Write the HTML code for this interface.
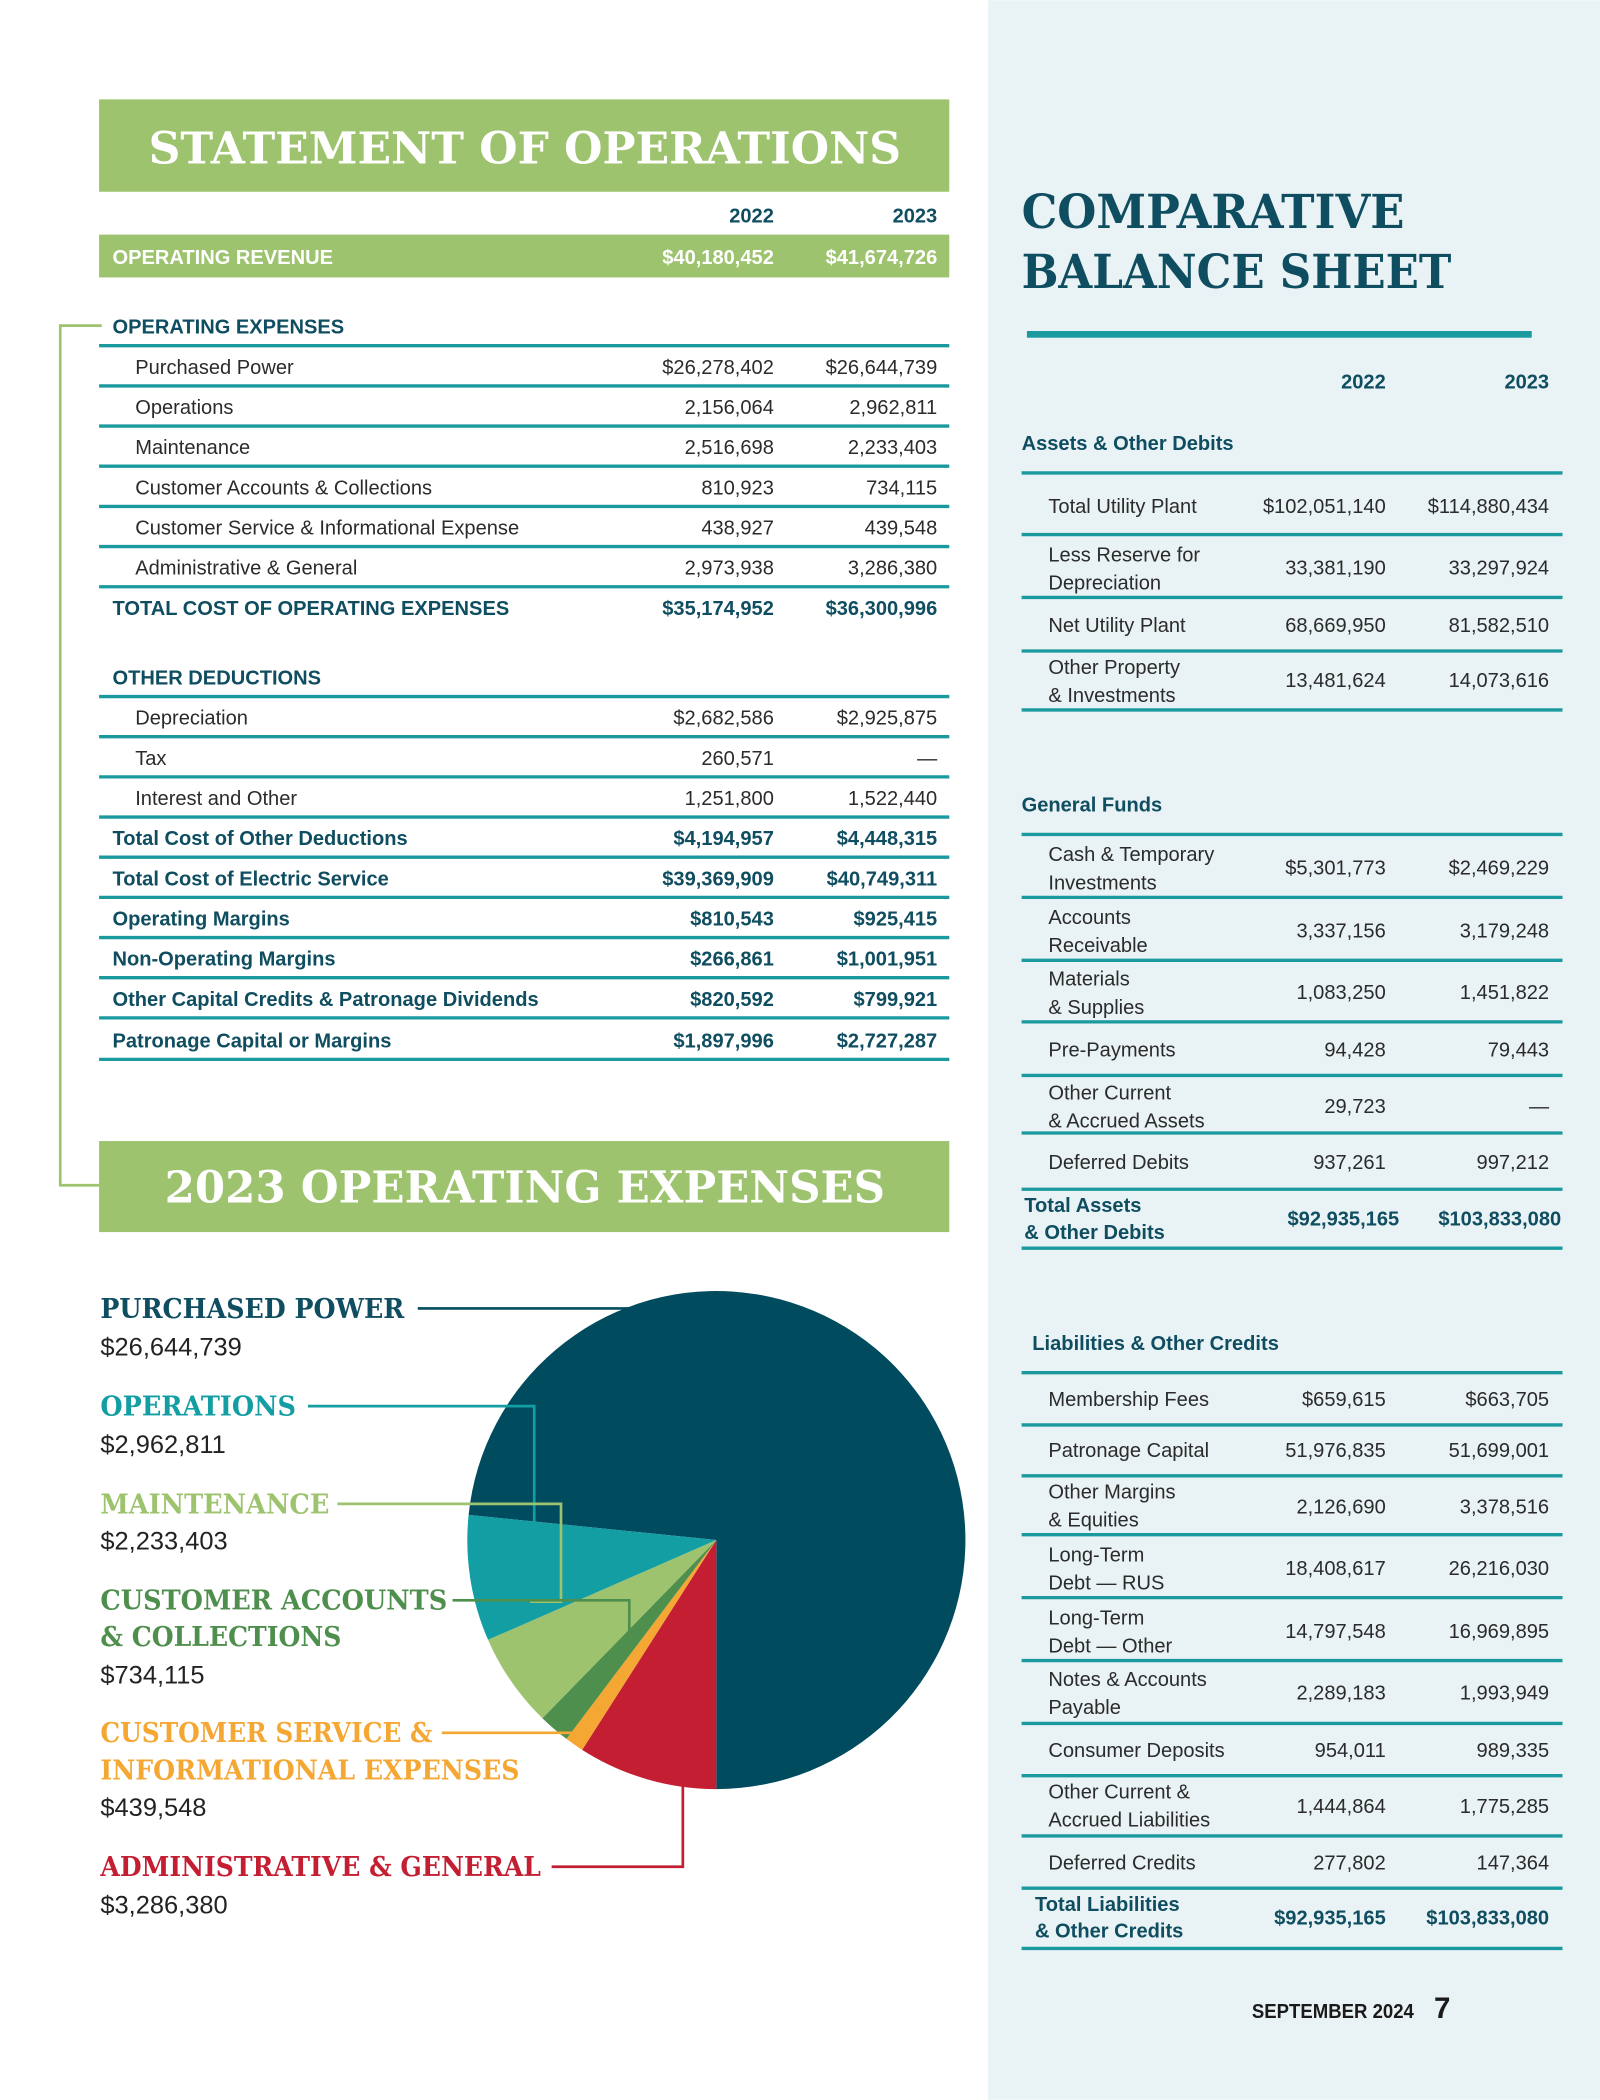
<!DOCTYPE html>
<html><head><meta charset="utf-8"><style>
html,body{margin:0;padding:0;background:#fff;}
svg{display:block;}
.t{font-family:"Liberation Sans",sans-serif;font-size:15px;fill:#2b2b2b;}
.b{font-family:"Liberation Sans",sans-serif;font-size:15px;font-weight:bold;fill:#0f4d60;}
.w{font-family:"Liberation Sans",sans-serif;font-size:15px;font-weight:bold;fill:#fff;}
.s{font-family:"DejaVu Serif","Liberation Serif",serif;font-weight:bold;}
.r{text-anchor:end;}
</style></head><body>
<svg width="1600" height="2100" viewBox="0 0 1195 1568" xmlns="http://www.w3.org/2000/svg">
<rect x="0" y="0" width="1195" height="1568" fill="#fff"/>
<rect x="738" y="0" width="457" height="1568" fill="#e9f2f4"/>

<rect x="74" y="74" width="635" height="69" fill="#9dc36e"/>
<text x="111" y="122" class="s" font-size="33" fill="#fff" textLength="562" lengthAdjust="spacingAndGlyphs">STATEMENT OF OPERATIONS</text>
<text x="578" y="166" class="b r">2022</text><text x="700" y="166" class="b r">2023</text>
<rect x="74" y="175" width="635" height="32" fill="#9dc36e"/>
<text x="84" y="197" class="w">OPERATING REVENUE</text>
<text x="578" y="197" class="w r">$40,180,452</text><text x="700" y="197" class="w r">$41,674,726</text>

<path d="M76 243 H45 V885 H74" fill="none" stroke="#9dc36e" stroke-width="2"/>
<text x="84" y="249" class="b">OPERATING EXPENSES</text>
<g stroke="#1a9a9e" stroke-width="2.5">
<line x1="74" x2="709" y1="258" y2="258"/><line x1="74" x2="709" y1="288" y2="288"/>
<line x1="74" x2="709" y1="318" y2="318"/><line x1="74" x2="709" y1="348" y2="348"/>
<line x1="74" x2="709" y1="378" y2="378"/><line x1="74" x2="709" y1="408" y2="408"/>
<line x1="74" x2="709" y1="438" y2="438"/>
<line x1="74" x2="709" y1="520" y2="520"/><line x1="74" x2="709" y1="550" y2="550"/>
<line x1="74" x2="709" y1="580" y2="580"/><line x1="74" x2="709" y1="610" y2="610"/>
<line x1="74" x2="709" y1="640" y2="640"/><line x1="74" x2="709" y1="670" y2="670"/>
<line x1="74" x2="709" y1="700" y2="700"/><line x1="74" x2="709" y1="730" y2="730"/>
<line x1="74" x2="709" y1="760" y2="760"/><line x1="74" x2="709" y1="791" y2="791"/>
</g>
<g>
<text x="101" y="279" class="t">Purchased Power</text><text x="578" y="279" class="t r">$26,278,402</text><text x="700" y="279" class="t r">$26,644,739</text>
<text x="101" y="309" class="t">Operations</text><text x="578" y="309" class="t r">2,156,064</text><text x="700" y="309" class="t r">2,962,811</text>
<text x="101" y="339" class="t">Maintenance</text><text x="578" y="339" class="t r">2,516,698</text><text x="700" y="339" class="t r">2,233,403</text>
<text x="101" y="369" class="t">Customer Accounts &amp; Collections</text><text x="578" y="369" class="t r">810,923</text><text x="700" y="369" class="t r">734,115</text>
<text x="101" y="399" class="t">Customer Service &amp; Informational Expense</text><text x="578" y="399" class="t r">438,927</text><text x="700" y="399" class="t r">439,548</text>
<text x="101" y="429" class="t">Administrative &amp; General</text><text x="578" y="429" class="t r">2,973,938</text><text x="700" y="429" class="t r">3,286,380</text>
<text x="84" y="459" class="b">TOTAL COST OF OPERATING EXPENSES</text><text x="578" y="459" class="b r">$35,174,952</text><text x="700" y="459" class="b r">$36,300,996</text>
<text x="84" y="511" class="b">OTHER DEDUCTIONS</text>
<text x="101" y="541" class="t">Depreciation</text><text x="578" y="541" class="t r">$2,682,586</text><text x="700" y="541" class="t r">$2,925,875</text>
<text x="101" y="571" class="t">Tax</text><text x="578" y="571" class="t r">260,571</text><text x="700" y="571" class="t r">—</text>
<text x="101" y="601" class="t">Interest and Other</text><text x="578" y="601" class="t r">1,251,800</text><text x="700" y="601" class="t r">1,522,440</text>
<text x="84" y="631" class="b">Total Cost of Other Deductions</text><text x="578" y="631" class="b r">$4,194,957</text><text x="700" y="631" class="b r">$4,448,315</text>
<text x="84" y="661" class="b">Total Cost of Electric Service</text><text x="578" y="661" class="b r">$39,369,909</text><text x="700" y="661" class="b r">$40,749,311</text>
<text x="84" y="691" class="b">Operating Margins</text><text x="578" y="691" class="b r">$810,543</text><text x="700" y="691" class="b r">$925,415</text>
<text x="84" y="721" class="b">Non-Operating Margins</text><text x="578" y="721" class="b r">$266,861</text><text x="700" y="721" class="b r">$1,001,951</text>
<text x="84" y="751" class="b">Other Capital Credits &amp; Patronage Dividends</text><text x="578" y="751" class="b r">$820,592</text><text x="700" y="751" class="b r">$799,921</text>
<text x="84" y="782" class="b">Patronage Capital or Margins</text><text x="578" y="782" class="b r">$1,897,996</text><text x="700" y="782" class="b r">$2,727,287</text>
</g>

<rect x="74" y="852" width="635" height="68" fill="#9dc36e"/>
<text x="123" y="898" class="s" font-size="33" fill="#fff" textLength="538" lengthAdjust="spacingAndGlyphs">2023 OPERATING EXPENSES</text>

<g>
<path d="M535 1150 L350 1131.2 A186 186 0 1 1 535 1336 Z" fill="#004b5e"/>
<path d="M535 1150 L535 1336 A186 186 0 0 1 434.8 1306.7 Z" fill="#c41e33"/>
<path d="M535 1150 L434.8 1306.7 A186 186 0 0 1 423.1 1298.5 Z" fill="#f5a733"/>
<path d="M535 1150 L423.1 1298.5 A186 186 0 0 1 405.1 1283.1 Z" fill="#4f8f4e"/>
<path d="M535 1150 L405.1 1283.1 A186 186 0 0 1 364.5 1224.5 Z" fill="#9dc36e"/>
<path d="M535 1150 L364.5 1224.5 A186 186 0 0 1 350 1131.2 Z" fill="#139ea4"/>
</g>
<g fill="none" stroke-width="2">
<path d="M312 977 H475" stroke="#004b5e"/>
<path d="M230 1050 H399 V1138" stroke="#139ea4"/>
<path d="M252 1123 H419 V1196 H396" stroke="#9dc36e"/>
<path d="M338 1195 H470 V1218" stroke="#4f8f4e"/>
<path d="M330 1294 H428" stroke="#f5a733"/>
<path d="M412 1394 H510 V1333" stroke="#c41e33"/>
</g>
<g class="s" font-size="20">
<text x="75" y="984" fill="#0f4d60" textLength="227" lengthAdjust="spacingAndGlyphs">PURCHASED POWER</text>
<text x="75" y="1057" fill="#139ea4" textLength="146" lengthAdjust="spacingAndGlyphs">OPERATIONS</text>
<text x="75" y="1130" fill="#9dc36e" textLength="171" lengthAdjust="spacingAndGlyphs">MAINTENANCE</text>
<text x="75" y="1202" fill="#4f8f4e" textLength="259" lengthAdjust="spacingAndGlyphs">CUSTOMER ACCOUNTS</text>
<text x="75" y="1229" fill="#4f8f4e" textLength="180" lengthAdjust="spacingAndGlyphs">&amp; COLLECTIONS</text>
<text x="75" y="1301" fill="#f5a733" textLength="248" lengthAdjust="spacingAndGlyphs">CUSTOMER SERVICE &amp;</text>
<text x="75" y="1329" fill="#f5a733" textLength="313" lengthAdjust="spacingAndGlyphs">INFORMATIONAL EXPENSES</text>
<text x="75" y="1401" fill="#c41e33" textLength="329" lengthAdjust="spacingAndGlyphs">ADMINISTRATIVE &amp; GENERAL</text>
</g>
<g font-family="Liberation Sans,sans-serif" font-size="19" fill="#222">
<text x="75" y="1012">$26,644,739</text>
<text x="75" y="1085">$2,962,811</text>
<text x="75" y="1157">$2,233,403</text>
<text x="75" y="1257">$734,115</text>
<text x="75" y="1356">$439,548</text>
<text x="75" y="1429">$3,286,380</text>
</g>

<text x="763" y="170" class="s" font-size="35" fill="#0f4d60" textLength="286" lengthAdjust="spacingAndGlyphs">COMPARATIVE</text>
<text x="763" y="215" class="s" font-size="35" fill="#0f4d60" textLength="321" lengthAdjust="spacingAndGlyphs">BALANCE SHEET</text>
<rect x="767" y="247" width="377" height="5" fill="#1a9a9e"/>
<text x="1035" y="290" class="b r">2022</text><text x="1157" y="290" class="b r">2023</text>
<text x="763" y="336" class="b">Assets &amp; Other Debits</text>
<g stroke="#1a9a9e" stroke-width="2.5">
<line x1="763" x2="1167" y1="353" y2="353"/><line x1="763" x2="1167" y1="399" y2="399"/>
<line x1="763" x2="1167" y1="446" y2="446"/><line x1="763" x2="1167" y1="486" y2="486"/>
<line x1="763" x2="1167" y1="530" y2="530"/>
<line x1="763" x2="1167" y1="623" y2="623"/><line x1="763" x2="1167" y1="670" y2="670"/>
<line x1="763" x2="1167" y1="717" y2="717"/><line x1="763" x2="1167" y1="763" y2="763"/>
<line x1="763" x2="1167" y1="803" y2="803"/><line x1="763" x2="1167" y1="846" y2="846"/>
<line x1="763" x2="1167" y1="888" y2="888"/><line x1="763" x2="1167" y1="932" y2="932"/>
<line x1="763" x2="1167" y1="1025" y2="1025"/><line x1="763" x2="1167" y1="1064" y2="1064"/>
<line x1="763" x2="1167" y1="1102" y2="1102"/><line x1="763" x2="1167" y1="1146" y2="1146"/>
<line x1="763" x2="1167" y1="1193" y2="1193"/><line x1="763" x2="1167" y1="1240" y2="1240"/>
<line x1="763" x2="1167" y1="1287" y2="1287"/><line x1="763" x2="1167" y1="1326" y2="1326"/>
<line x1="763" x2="1167" y1="1371" y2="1371"/><line x1="763" x2="1167" y1="1410" y2="1410"/>
<line x1="763" x2="1167" y1="1455" y2="1455"/>
</g>
<g>
<text x="783" y="383" class="t">Total Utility Plant</text><text x="1035" y="383" class="t r">$102,051,140</text><text x="1157" y="383" class="t r">$114,880,434</text>
<text x="783" y="419" class="t">Less Reserve for</text><text x="783" y="440" class="t">Depreciation</text><text x="1035" y="429" class="t r">33,381,190</text><text x="1157" y="429" class="t r">33,297,924</text>
<text x="783" y="472" class="t">Net Utility Plant</text><text x="1035" y="472" class="t r">68,669,950</text><text x="1157" y="472" class="t r">81,582,510</text>
<text x="783" y="503" class="t">Other Property</text><text x="783" y="524" class="t">&amp; Investments</text><text x="1035" y="513" class="t r">13,481,624</text><text x="1157" y="513" class="t r">14,073,616</text>

<text x="763" y="606" class="b">General Funds</text>
<text x="783" y="643" class="t">Cash &amp; Temporary</text><text x="783" y="664" class="t">Investments</text><text x="1035" y="653" class="t r">$5,301,773</text><text x="1157" y="653" class="t r">$2,469,229</text>
<text x="783" y="690" class="t">Accounts</text><text x="783" y="711" class="t">Receivable</text><text x="1035" y="700" class="t r">3,337,156</text><text x="1157" y="700" class="t r">3,179,248</text>
<text x="783" y="736" class="t">Materials</text><text x="783" y="757" class="t">&amp; Supplies</text><text x="1035" y="746" class="t r">1,083,250</text><text x="1157" y="746" class="t r">1,451,822</text>
<text x="783" y="789" class="t">Pre-Payments</text><text x="1035" y="789" class="t r">94,428</text><text x="1157" y="789" class="t r">79,443</text>
<text x="783" y="821" class="t">Other Current</text><text x="783" y="842" class="t">&amp; Accrued Assets</text><text x="1035" y="831" class="t r">29,723</text><text x="1157" y="831" class="t r">—</text>
<text x="783" y="873" class="t">Deferred Debits</text><text x="1035" y="873" class="t r">937,261</text><text x="1157" y="873" class="t r">997,212</text>
<text x="765" y="905" class="b">Total Assets</text><text x="765" y="925" class="b">&amp; Other Debits</text><text x="1045" y="915" class="b r">$92,935,165</text><text x="1166" y="915" class="b r">$103,833,080</text>

<text x="771" y="1008" class="b">Liabilities &amp; Other Credits</text>
<text x="783" y="1050" class="t">Membership Fees</text><text x="1035" y="1050" class="t r">$659,615</text><text x="1157" y="1050" class="t r">$663,705</text>
<text x="783" y="1088" class="t">Patronage Capital</text><text x="1035" y="1088" class="t r">51,976,835</text><text x="1157" y="1088" class="t r">51,699,001</text>
<text x="783" y="1119" class="t">Other Margins</text><text x="783" y="1140" class="t">&amp; Equities</text><text x="1035" y="1130" class="t r">2,126,690</text><text x="1157" y="1130" class="t r">3,378,516</text>
<text x="783" y="1166" class="t">Long-Term</text><text x="783" y="1187" class="t">Debt — RUS</text><text x="1035" y="1176" class="t r">18,408,617</text><text x="1157" y="1176" class="t r">26,216,030</text>
<text x="783" y="1213" class="t">Long-Term</text><text x="783" y="1234" class="t">Debt — Other</text><text x="1035" y="1223" class="t r">14,797,548</text><text x="1157" y="1223" class="t r">16,969,895</text>
<text x="783" y="1259" class="t">Notes &amp; Accounts</text><text x="783" y="1280" class="t">Payable</text><text x="1035" y="1269" class="t r">2,289,183</text><text x="1157" y="1269" class="t r">1,993,949</text>
<text x="783" y="1312" class="t">Consumer Deposits</text><text x="1035" y="1312" class="t r">954,011</text><text x="1157" y="1312" class="t r">989,335</text>
<text x="783" y="1343" class="t">Other Current &amp;</text><text x="783" y="1364" class="t">Accrued Liabilities</text><text x="1035" y="1354" class="t r">1,444,864</text><text x="1157" y="1354" class="t r">1,775,285</text>
<text x="783" y="1396" class="t">Deferred Credits</text><text x="1035" y="1396" class="t r">277,802</text><text x="1157" y="1396" class="t r">147,364</text>
<text x="773" y="1427" class="b">Total Liabilities</text><text x="773" y="1447" class="b">&amp; Other Credits</text><text x="1035" y="1437" class="b r">$92,935,165</text><text x="1157" y="1437" class="b r">$103,833,080</text>
</g>
<text x="935" y="1507" font-family="Liberation Sans,sans-serif" font-weight="bold" font-size="15" fill="#1a1a1a" textLength="121" lengthAdjust="spacingAndGlyphs">SEPTEMBER 2024</text>
<text x="1071" y="1507" font-family="Liberation Sans,sans-serif" font-weight="bold" font-size="22" fill="#1a1a1a">7</text>
</svg>
</body></html>
